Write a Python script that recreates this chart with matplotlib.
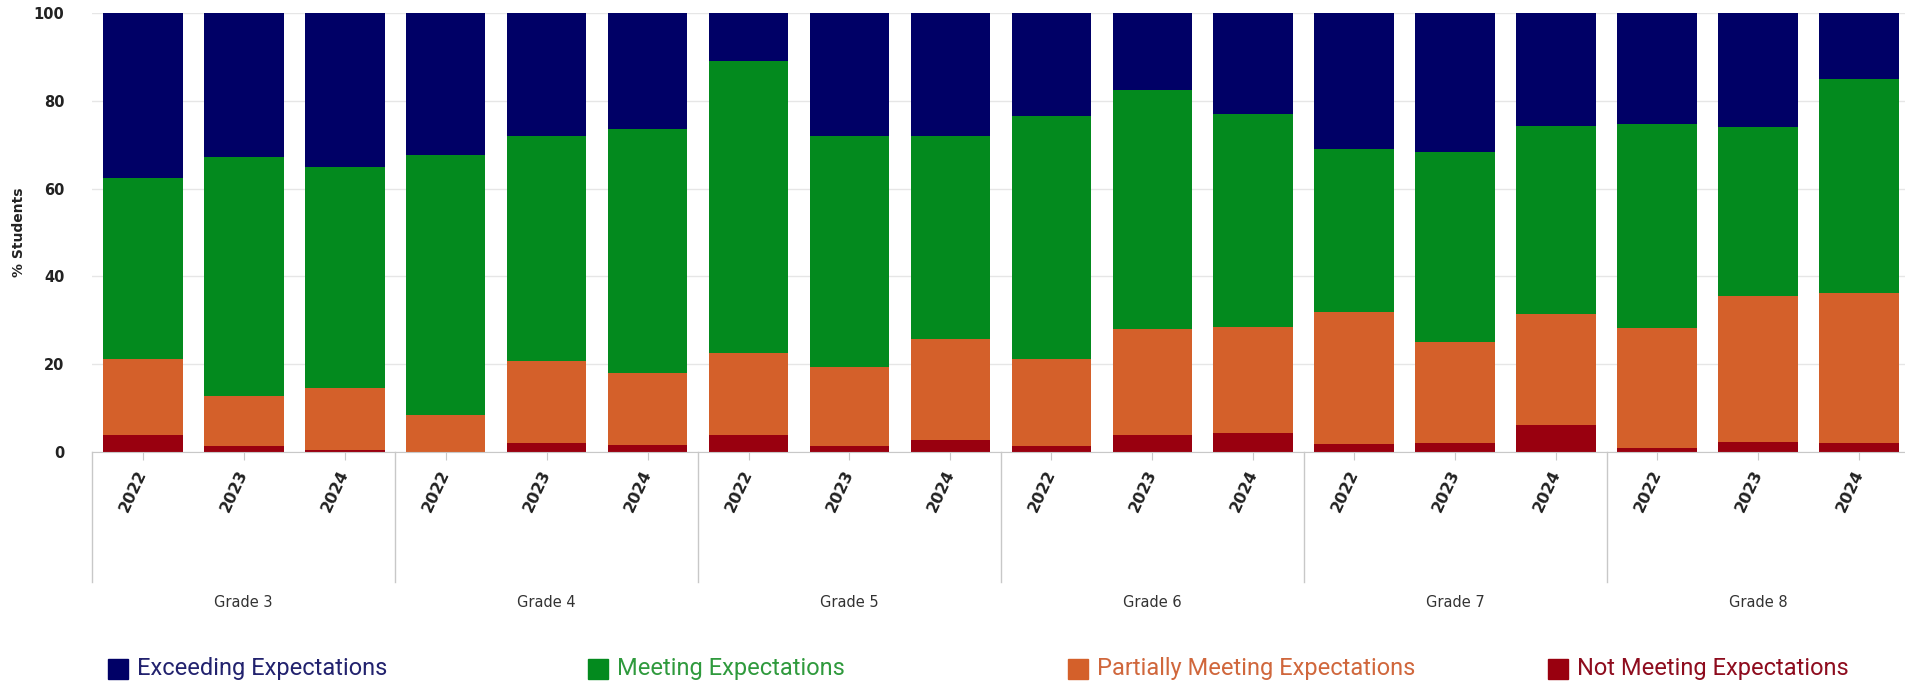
#!/usr/bin/env python

"""
Stacked bars of the share of students at each expectation level,
by grade and school year.
"""

import numpy as np
import matplotlib.pyplot as plt
from matplotlib.patches import Rectangle

grades = ["Grade 3", "Grade 4", "Grade 5", "Grade 6", "Grade 7", "Grade 8"]
years = ["2022", "2023", "2024"]

# % students per level, one value per grade/year bar (grade-major order)
not_meeting = [3.8, 1.3, 0.5,  0.0, 1.9, 1.5,  3.8, 1.3, 2.7,
               1.3, 3.8, 4.2,  1.7, 1.9, 6.1,  0.8, 2.3, 1.9]
partially = [17.3, 11.5, 14.0,  8.4, 18.8, 16.5,  18.8, 18.1, 23.1,
             19.9, 24.3, 24.2,  30.2, 23.2, 25.2,  27.5, 33.2, 34.2]
meeting = [41.4, 54.5, 50.5,  59.2, 51.3, 55.5,  66.5, 52.5, 46.1,
           55.4, 54.4, 48.6,  37.1, 43.2, 43.0,  46.4, 38.5, 48.8]
exceeding = [37.5, 32.7, 35.0,  32.4, 28.0, 26.5,  10.9, 28.1, 28.1,
             23.4, 17.5, 23.0,  31.0, 31.7, 25.7,  25.3, 26.0, 15.1]

levels = ["Exceeding Expectations", "Meeting Expectations",
          "Partially Meeting Expectations", "Not Meeting Expectations"]
bar_colors = ["#000066", "#038a1e", "#d4602a", "#99000f"]
text_colors = ["#22226e", "#2f9a3d", "#d0673c", "#8e0c1e"]


def draw_bars(ax):
    x = np.arange(len(not_meeting)) + 0.5
    bottom = np.zeros(len(x))
    # stack from the bottom up: not meeting, partially, meeting, exceeding
    for vals, col in zip([not_meeting, partially, meeting, exceeding],
                         bar_colors[::-1]):
        ax.bar(x, vals, width=0.79, bottom=bottom, color=col,
               linewidth=0, zorder=2)
        bottom += np.array(vals)
    return x


def main():
    fig = plt.figure(figsize=(19.05, 6.83), dpi=100)
    W, H = 1905.0, 683.0
    ax = fig.add_axes([92.2 / W, 1 - 451.7 / H, 1817.5 / W, 438.4 / H])

    x = draw_bars(ax)

    ax.set_xlim(0, len(x))
    ax.set_ylim(0, 100)
    ax.set_yticks([0, 20, 40, 60, 80, 100])
    ax.yaxis.grid(True, color="#e6e6e6", linewidth=1, zorder=0)
    ax.set_axisbelow(True)
    for s in ["left", "right", "top"]:
        ax.spines[s].set_visible(False)
    ax.spines["bottom"].set_color("#c8c8c8")
    ax.tick_params(axis="y", length=0, pad=20, labelsize=10.5,
                   labelcolor="#222222")
    for lab in ax.get_yticklabels():
        lab.set_fontweight("bold")

    ax.set_xticks(x)
    ax.set_xticklabels(years * len(grades), rotation=65, ha="right",
                       va="center", rotation_mode="anchor",
                       fontsize=11.5, fontweight="bold", color="#222222")
    ax.tick_params(axis="x", length=6, color="#c8c8c8", pad=8)

    # grade separators and grade labels under the year labels
    trans = ax.get_xaxis_transform()
    for i in range(len(grades) + 1):
        ax.plot([3 * i, 3 * i], [0, -0.297], color="#c8c8c8", lw=1,
                transform=trans, clip_on=False)
    for i, g in enumerate(grades):
        ax.text(3 * i + 1.5, -0.345, g, transform=trans, ha="center",
                va="center", fontsize=10.5, color="#333333")

    fig.text(19 / W, 1 - 232.5 / H, "% Students", rotation=90, ha="center",
             va="center", fontsize=10, fontweight="bold", color="#222222")

    # legend, evenly spaced along the bottom
    for i, (name, bc, tc) in enumerate(zip(levels, bar_colors, text_colors)):
        x0 = 108 + 480 * i
        fig.add_artist(Rectangle((x0 / W, 1 - 679 / H), 20 / W, 20 / H,
                                 transform=fig.transFigure, color=bc))
        fig.text((x0 + 29) / W, 1 - 669 / H, name, ha="left", va="center",
                 fontsize=17, family="Roboto", color=tc)

    fig.savefig("out.png", dpi=100)


if __name__ == "__main__":
    main()
